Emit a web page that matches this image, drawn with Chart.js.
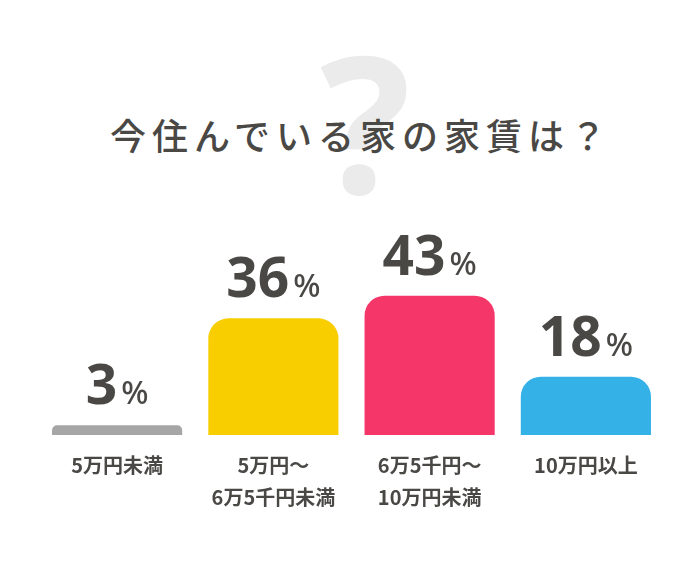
<!DOCTYPE html>
<html lang="ja">
<head>
  <meta charset="UTF-8" />
  <title>今住んでいる家の家賃は？</title>
  <script src="https://cdn.jsdelivr.net/npm/chart.js"></script>
  <style>
    body { margin: 0; background: #fff; }
    .wrap { position: relative; width: 700px; height: 580px; overflow: hidden; }
    .mark {
      position: absolute; left: 15px; top: 26px; width: 700px;
      text-align: center; font: 700 190px/1 "Noto Sans", sans-serif; color: #ebebeb;
    }
    h1 {
      position: absolute; left: 11px; top: 116px; width: 700px; margin: 0;
      text-align: center; font: 500 36px/1 "Noto Sans CJK JP", sans-serif;
      letter-spacing: 6px; color: #4a4845;
    }
    canvas { position: absolute; left: 0; top: 0; }
  </style>
</head>
<body>
  <div class="wrap">
    <div class="mark">?</div>
    <h1>今住んでいる家の家賃は？</h1>
    <canvas id="rentChart" width="700" height="580"></canvas>
  </div>

  <script>
    const categories = [
      ['5万円未満'],
      ['5万円〜', '6万5千円未満'],
      ['6万5千円〜', '10万円未満'],
      ['10万円以上']
    ];
    const shares = [3, 36, 43, 18];
    const barColors = ['#a6a6a6', '#f9ce00', '#f53668', '#34b1e6'];
    const ink = '#4a4845';

    // big number + small % above each bar
    const valueLabels = {
      id: 'valueLabels',
      afterDatasetsDraw(chart) {
        const ctx = chart.ctx;
        const bars = chart.getDatasetMeta(0).data;
        ctx.save();
        ctx.fillStyle = ink;
        ctx.textBaseline = 'alphabetic';
        ctx.textAlign = 'left';
        bars.forEach((bar, i) => {
          const num = String(shares[i]);
          ctx.font = '700 55px "Noto Sans"';
          const wNum = ctx.measureText(num).width;
          ctx.font = '500 32px "Noto Sans"';
          const wPct = ctx.measureText('%').width;
          const gap = 4;
          const x0 = bar.x - (wNum + gap + wPct) / 2;
          const y = bar.y - 21;
          ctx.font = '700 55px "Noto Sans"';
          ctx.fillText(num, x0, y);
          ctx.font = '500 32px "Noto Sans"';
          ctx.fillText('%', x0 + wNum + gap, y);
        });
        ctx.restore();
      }
    };

    new Chart(document.getElementById('rentChart'), {
      type: 'bar',
      data: {
        labels: categories,
        datasets: [{
          data: shares,
          backgroundColor: barColors,
          borderRadius: { topLeft: 20, topRight: 20 },
          borderSkipped: 'bottom',
          categoryPercentage: 1,
          barPercentage: 0.833
        }]
      },
      options: {
        responsive: false,
        animation: false,
        layout: { padding: { top: 273, left: 39, right: 36, bottom: 53 } },
        plugins: { legend: { display: false }, tooltip: { enabled: false } },
        scales: {
          x: {
            grid: { display: false, drawTicks: false },
            border: { display: false },
            ticks: {
              padding: 14,
              color: ink,
              font: { family: '"Noto Sans CJK JP"', size: 20, weight: '700', lineHeight: 1.6 }
            }
          },
          y: { display: false, min: 0, max: 50 }
        }
      },
      plugins: [valueLabels]
    });
  </script>
</body>
</html>
